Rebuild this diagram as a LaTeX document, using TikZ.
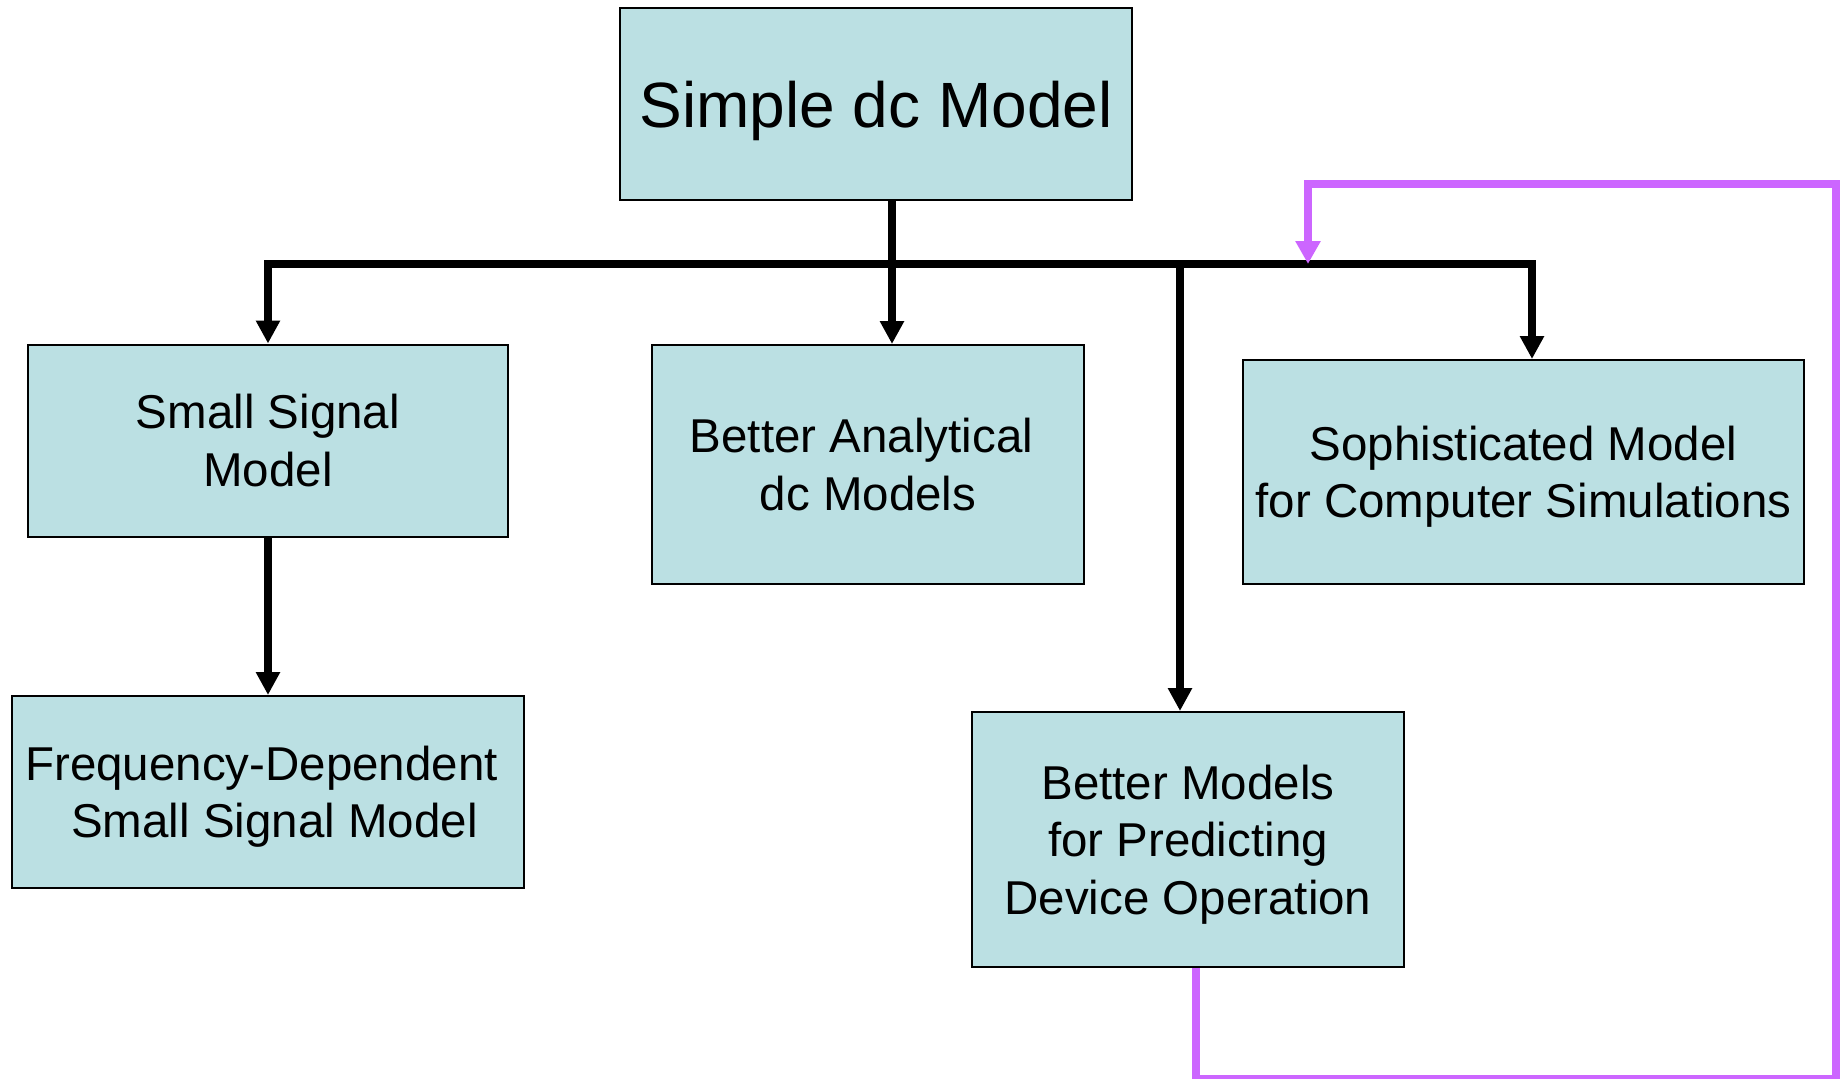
\documentclass[tikz,border=0pt]{standalone}
\usepackage{fontspec}
\setmainfont{Liberation Sans}
\usetikzlibrary{arrows.meta}
\definecolor{boxfill}{HTML}{BBE0E3}
\definecolor{loopcol}{HTML}{CC66FF}
\tikzset{
  box/.style={draw=black, line width=2pt, fill=boxfill, inner sep=0pt, align=center,
    text depth=0pt, font=\fontsize{47.5}{57.5}\selectfont},
  conn/.style={line width=8pt, draw=black},
  connarrow/.style={conn, -{Triangle[length=23pt,width=23pt]}},
  loopline/.style={line width=8pt, draw=loopcol, -{Triangle[length=23pt,width=24pt]}},
}
\newcommand{\tsp}{\rule{13pt}{0pt}}
\begin{document}
\begin{tikzpicture}[x=1pt,y=-1pt]
\useasboundingbox (0,0) rectangle (1845,1079);
\node[box, minimum width=512pt, minimum height=192pt, font=\fontsize{64}{77}\selectfont] (top) at (876,104) {Simple dc Model};
\node[box, minimum width=480pt, minimum height=192pt] (ss) at (268,440.5) {Small Signal\\Model};
\node[box, minimum width=432pt, minimum height=239pt] (ana) at (868,464.5) {Better Analytical\tsp\\dc Models};
\node[box, minimum width=561pt, minimum height=224pt] (soph) at (1523.5,472) {Sophisticated Model\\for Computer Simulations};
\node[box, minimum width=512pt, minimum height=192pt] (freq) at (268,792) {Frequency-Dependent\tsp\\\tsp Small Signal Model};
\node[box, minimum width=432pt, minimum height=255pt] (bm) at (1188,839.5) {Better Models\\for Predicting\\Device Operation};
% bus coordinates
\coordinate (busL) at (268,264);
\coordinate (busR) at (1532,264);
\coordinate (j1) at (892,264);
\coordinate (j2) at (1180,264);
\coordinate (lpA) at (1196,1078.5);
\coordinate (lpB) at (1836,184);
\coordinate (lpC) at (1308,264);
% black connectors
\draw[connarrow] (j1 |- top.south) -- (j1 |- ana.north);
\draw[connarrow] (j1) -- (busL) -- (ss.north);
\draw[connarrow] (j1) -- (busR) -- (busR |- soph.north);
\draw[connarrow] (j2) -- (j2 |- bm.north);
\draw[connarrow] (ss.south) -- (freq.north);
% purple loop
\draw[loopline] (lpA |- bm.south) -- (lpA) -- (lpB |- lpA) -- (lpB) -- (lpC |- lpB) -- (lpC);
\end{tikzpicture}
\end{document}
